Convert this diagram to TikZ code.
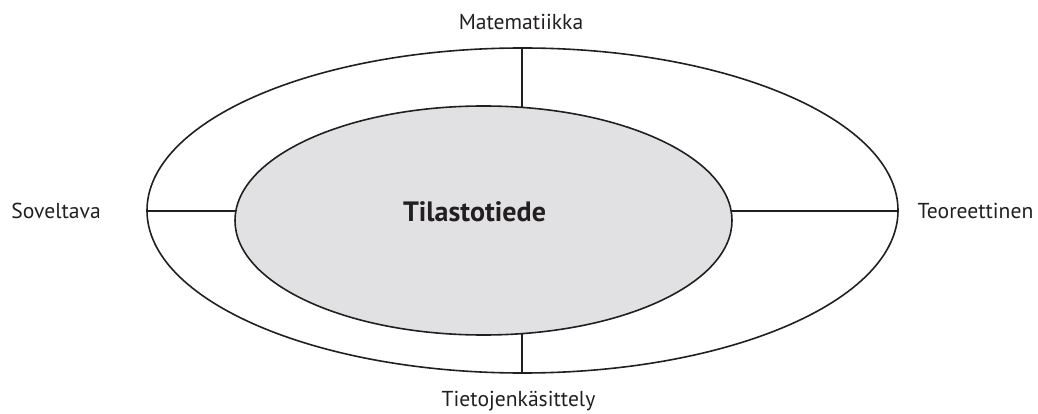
\documentclass[tikz,border=0pt]{standalone}
\usepackage{fontspec}
\setmainfont{PT Sans}
\usetikzlibrary{shapes.geometric}
\definecolor{innerfill}{RGB}{225,225,227}
\definecolor{ink}{RGB}{35,31,32}
\tikzset{
  ring/.style={ellipse, draw=ink, line width=1.6pt, inner sep=0pt},
  spoke/.style={draw=ink, line width=1.6pt},
  lbl/.style={inner sep=0pt, text=ink, font=\fontsize{21.6}{24}\selectfont},
  title/.style={inner sep=0pt, text=ink, font=\fontsize{28}{32}\selectfont\bfseries}
}
\begin{document}
\begin{tikzpicture}[x=1pt,y=1pt]
\useasboundingbox (0,0) rectangle (1038,-414);
\node[ring, minimum width=751pt, minimum height=325pt] (outer) at (522.5,-210.5) {};
\node[ring, fill=innerfill, minimum width=497pt, minimum height=229pt] (inner) at (483.5,-220.5) {};
\node[title] (tt) at (474.5,-212) {Tilastotiede};
\coordinate (topO) at (522,-48);
\coordinate (topI) at (522,-107.4);
\coordinate (botO) at (522,-373);
\coordinate (botI) at (522,-333.6);
\coordinate (lefO) at (147,-211);
\coordinate (lefI) at (235.9,-211);
\coordinate (rigO) at (898,-211);
\coordinate (rigI) at (731.1,-211);
\draw[spoke] (topO) -- (topI);
\draw[spoke] (botO) -- (botI);
\draw[spoke] (lefO) -- (lefI);
\draw[spoke] (rigO) -- (rigI);
\node[lbl] (mat) at (521,-22) {Matematiikka};
\node[lbl] (sov) at (56,-211) {Soveltava};
\node[lbl] (teo) at (975.5,-211) {Teoreettinen};
\node[lbl] (tie) at (518.5,-401) {Tietojenkäsittely};
\end{tikzpicture}
\end{document}
